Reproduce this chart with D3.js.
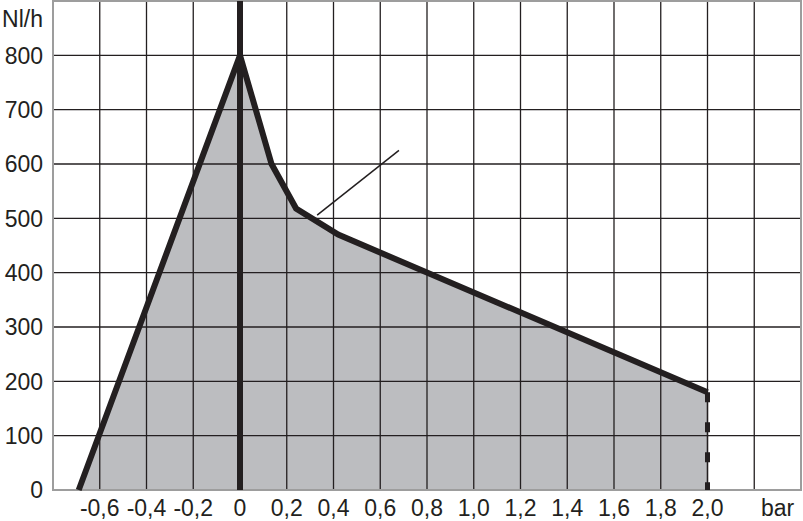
<!DOCTYPE html>
<html>
<head>
<meta charset="utf-8">
<script src="https://cdn.jsdelivr.net/npm/d3@7"></script>
<style>
  body { margin: 0; background: #fff; }
  text { font-family: "Liberation Sans", Arial, sans-serif; fill: #231f20; }
</style>
</head>
<body>
<div id="chart"></div>
<script>
var svgWidth = 803;
var svgHeight = 521;

var margin = { top: 1, right: 2, bottom: 31, left: 53 };
var width = svgWidth - margin.left - margin.right;
var height = svgHeight - margin.top - margin.bottom;

// axis ticks
var xTicks = [-0.6, -0.4, -0.2, 0, 0.2, 0.4, 0.6, 0.8, 1.0, 1.2, 1.4, 1.6, 1.8, 2.0];
var xGrid = [-0.6, -0.4, -0.2, 0, 0.2, 0.4, 0.6, 0.8, 1.0, 1.2, 1.4, 1.6, 1.8, 2.0, 2.2];
var yTicks = [0, 100, 200, 300, 400, 500, 600, 700, 800];

// curve (bar, Nl/h)
var curveX = [-0.69, 0, 0.135, 0.24, 0.42, 2.0];
var curveY = [0, 800, 600, 518, 470, 180];

// leader line
var leaderX = [0.33, 0.68];
var leaderY = [506, 625];

var svg = d3.select("#chart")
  .append("svg")
  .attr("width", svgWidth)
  .attr("height", svgHeight);

var chartGroup = svg.append("g")
  .attr("transform", `translate(${margin.left}, ${margin.top})`);

var x = d3.scaleLinear().domain([-0.8, 2.4]).range([0, width]);
var y = d3.scaleLinear().domain([0, 900]).range([height, 0]);

var fmt = function(d) { return d === 0 ? "0" : d3.format(".1f")(d).replace(".", ",").replace("−", "-"); };

// fill area under the curve
var pts = curveX.map((d, i) => [d, curveY[i]]);
var areaPts = pts.concat([[curveX[curveX.length - 1], 0]]);
chartGroup.append("path")
  .attr("d", d3.line().x(d => x(d[0])).y(d => y(d[1]))(areaPts) + "Z")
  .attr("fill", "#bcbdc0");

// grid
chartGroup.selectAll(".vgrid")
  .data(xGrid)
  .enter()
  .append("line")
  .attr("x1", d => x(d)).attr("x2", d => x(d))
  .attr("y1", 0).attr("y2", height)
  .attr("stroke", "#231f20")
  .attr("stroke-width", 1.3);

chartGroup.selectAll(".hgrid")
  .data(yTicks.slice(1))
  .enter()
  .append("line")
  .attr("x1", 0).attr("x2", width)
  .attr("y1", d => y(d)).attr("y2", d => y(d))
  .attr("stroke", "#231f20")
  .attr("stroke-width", 1.3);

// frame
chartGroup.append("rect")
  .attr("x", 0).attr("y", 0)
  .attr("width", width).attr("height", height)
  .attr("fill", "none")
  .attr("stroke", "#9d9d9d")
  .attr("stroke-width", 2);

// zero axis
chartGroup.append("line")
  .attr("x1", x(0)).attr("x2", x(0))
  .attr("y1", 0).attr("y2", height)
  .attr("stroke", "#231f20")
  .attr("stroke-width", 6);

// thin edge + dashed end at 2.0
var xEnd = curveX[curveX.length - 1];
var yEnd = curveY[curveY.length - 1];
chartGroup.append("line")
  .attr("x1", x(xEnd)).attr("x2", x(xEnd))
  .attr("y1", y(yEnd)).attr("y2", height)
  .attr("stroke", "#231f20")
  .attr("stroke-width", 1.3);
chartGroup.append("line")
  .attr("x1", x(xEnd)).attr("x2", x(xEnd))
  .attr("y1", y(yEnd)).attr("y2", height)
  .attr("stroke", "#231f20")
  .attr("stroke-width", 5)
  .attr("stroke-dasharray", "10,20");

// curve
chartGroup.append("path")
  .attr("d", d3.line().x(d => x(d[0])).y(d => y(d[1]))(pts))
  .attr("fill", "none")
  .attr("stroke", "#231f20")
  .attr("stroke-width", 6)
  .attr("stroke-linejoin", "miter");

// leader line
chartGroup.append("line")
  .attr("x1", x(leaderX[0])).attr("y1", y(leaderY[0]))
  .attr("x2", x(leaderX[1])).attr("y2", y(leaderY[1]))
  .attr("stroke", "#231f20")
  .attr("stroke-width", 1.5);

// y labels
chartGroup.selectAll(".ylab")
  .data(yTicks)
  .enter()
  .append("text")
  .attr("x", -10)
  .attr("y", d => y(d))
  .attr("dy", "0.36em")
  .attr("text-anchor", "end")
  .attr("font-size", 23)
  .text(d => d);

chartGroup.append("text")
  .attr("x", -10)
  .attr("y", 18)
  .attr("dy", "0.36em")
  .attr("text-anchor", "end")
  .attr("font-size", 23)
  .text("Nl/h");

// x labels
chartGroup.selectAll(".xlab")
  .data(xTicks)
  .enter()
  .append("text")
  .attr("x", d => x(d))
  .attr("y", height + 26)
  .attr("text-anchor", "middle")
  .attr("font-size", 23)
  .text(d => fmt(d));

chartGroup.append("text")
  .attr("x", x(2.3))
  .attr("y", height + 26)
  .attr("text-anchor", "middle")
  .attr("font-size", 23)
  .text("bar");
</script>
</body>
</html>
